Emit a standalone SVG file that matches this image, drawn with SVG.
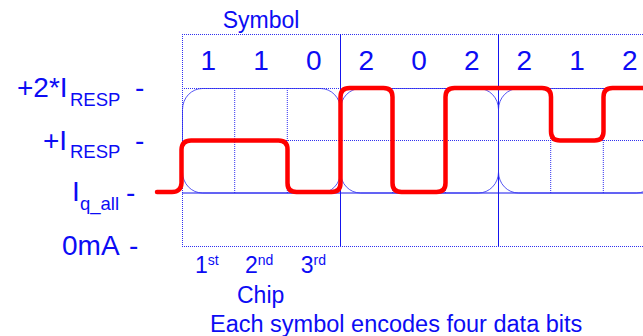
<svg xmlns="http://www.w3.org/2000/svg" width="643" height="336" viewBox="0 0 643 336">
<style>
text{font-family:"Liberation Sans",Arial,sans-serif;fill:#0c0cf4}
.dot{stroke:#3030f0;stroke-width:1;stroke-dasharray:1 1;fill:none}
.sol{stroke:#1515ee;stroke-width:1;fill:none}
.rr{stroke:#2a2af0;stroke-width:0.8;fill:none}
.big{font-size:28px}
.sub{font-size:18.5px}
.mid{font-size:23px}
.sup{font-size:14px}
.wave{stroke:#ff0000;stroke-width:4.5;fill:none;stroke-linejoin:round;stroke-linecap:round}
</style>
<rect width="643" height="336" fill="#ffffff"/>
<g id="grid">
<path class="dot" d="M182,34.5H643M182,246.5H643M182.5,34V246M182,88.5H643M182,140.5H643"/>
<path class="dot" d="M234.7,88V193M287.3,88V193M392.7,88V193M445.3,88V193M550.7,88V193M603.3,88V193"/>
<path class="sol" d="M182,193H643M340.5,34V246M498.5,34V246"/>
<rect class="rr" x="182.5" y="88.5" width="158" height="104.5" rx="20" ry="21"/>
<rect class="rr" x="340.5" y="88.5" width="158" height="104.5" rx="20" ry="21"/>
<rect class="rr" x="498.5" y="88.5" width="158" height="104.5" rx="20" ry="21"/>
</g>
<g id="symbols">
<text class="mid" x="222.7" y="28.3">Symbol</text>
<g class="big" text-anchor="middle">
<text x="208.3" y="70">1</text>
<text x="261" y="70">1</text>
<text x="313.7" y="70">0</text>
<text x="366.3" y="70">2</text>
<text x="419" y="70">0</text>
<text x="471.7" y="70">2</text>
<text x="524.3" y="70">2</text>
<text x="577" y="70">1</text>
<text x="629.7" y="70">2</text>
</g>
</g>
<g id="levels">
<text class="big" x="17" y="96.5">+2*I<tspan class="sub" x="70" y="105.5">RESP</tspan><tspan x="135" y="96.5">-</tspan></text>
<text class="big" x="43" y="150">+I<tspan class="sub" x="70" y="158">RESP</tspan><tspan x="135" y="150">-</tspan></text>
<text class="big" x="72" y="200.5">I<tspan class="sub" x="80" y="210">q_all</tspan><tspan x="126" y="202">-</tspan></text>
<text class="big" x="62" y="254.5">0mA<tspan x="129" y="254.5">-</tspan></text>
</g>
<g id="chips">
<text class="mid" x="195" y="273">1<tspan class="sup" y="265">st</tspan></text>
<text class="mid" x="245" y="273">2<tspan class="sup" y="265">nd</tspan></text>
<text class="mid" x="300.7" y="273">3<tspan class="sup" y="265">rd</tspan></text>
<text class="mid" x="237" y="303">Chip</text>
<text x="210" y="331.5" style="font-size:23.5px">Each symbol encodes four data bits</text>
</g>
<g id="connectors">
<path class="wave" d="M157,192H172Q181,192 181.5,183V149.5Q182,140.5 191,140.5H278.5Q287.5,140.5 287.5,149.5V183Q287.5,192 296.5,192H331.5Q340.5,192 340.5,183V97Q340.5,88 349.5,88H383.5Q392.5,88 392.5,97V183Q392.5,192 401.5,192H436.5Q445.5,192 445.5,183V97Q445.5,88 454.5,88H542Q551,88 551,97V131.5Q551,140.5 560,140.5H594.5Q603.5,140.5 603.5,131.5V97Q603.5,88 612.5,88H650"/>
</g>
</svg>
